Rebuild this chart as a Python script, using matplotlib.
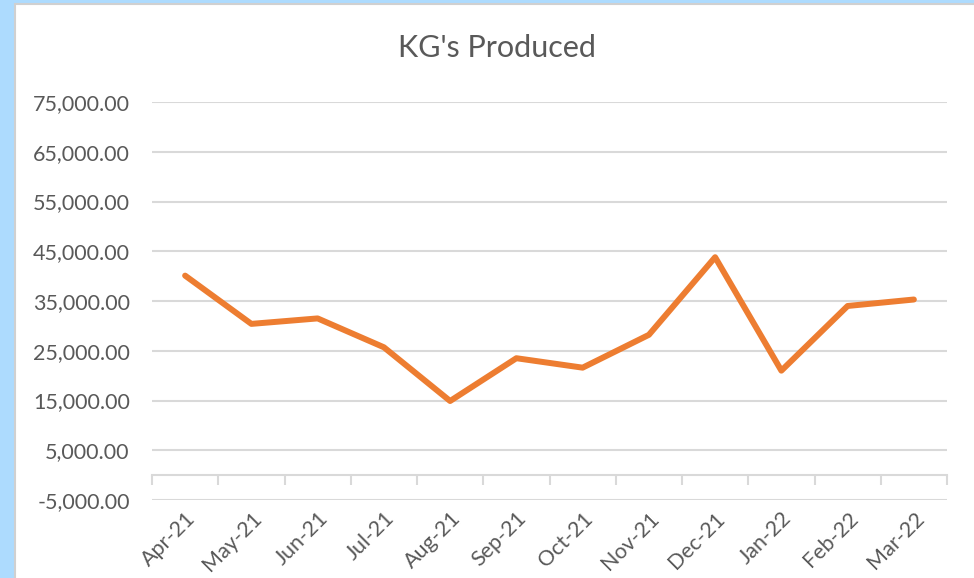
import matplotlib
matplotlib.use("Agg")
import matplotlib.pyplot as plt
from matplotlib.patches import Rectangle
from matplotlib.ticker import FuncFormatter
import numpy as np

months = ["Apr-21", "May-21", "Jun-21", "Jul-21", "Aug-21", "Sep-21",
          "Oct-21", "Nov-21", "Dec-21", "Jan-22", "Feb-22", "Mar-22"]
kg_produced = [40100, 30400, 31500, 25700, 14900, 23500,
               21600, 28200, 43800, 21000, 34000, 35300]
y_ticks = [-5000, 5000, 15000, 25000, 35000, 45000, 55000, 65000, 75000]

W, H = 974, 578
plt.rcParams['font.family'] = ['Lato', 'DejaVu Sans']
fig = plt.figure(figsize=(W / 100, H / 100), dpi=100)
fig.patch.set_facecolor('#ADDBFE')

# chart area (white with light grey border)
fig.patches.append(Rectangle((15 / W, -0.1), 1.2, (H - 4) / H + 0.1,
                             transform=fig.transFigure, facecolor='white',
                             edgecolor='#D0D0D0', linewidth=1.5, zorder=-10))

ax = fig.add_axes([152 / W, 1 - 500 / H, (947 - 152) / W, (500 - 102) / H])
ax.set_zorder(5)
ax.set_facecolor('none')
x = np.arange(len(months))
ax.plot(x, kg_produced, color='#ED7D31', linewidth=4.3,
        solid_capstyle='round', solid_joinstyle='round', zorder=3)

ax.set_xlim(-0.5, len(months) - 0.5)
ax.set_ylim(y_ticks[0], y_ticks[-1])
ax.set_yticks(y_ticks)
ax.yaxis.set_major_formatter(FuncFormatter(lambda v, p: f"{v:,.2f}"))
ax.grid(axis='y', color='#D9D9D9', linewidth=1.5, zorder=0)
ax.tick_params(axis='y', length=0, pad=16, labelsize=15.5, labelcolor='#595959')

ax.set_xticks(x)
ax.set_xticklabels(months, rotation=45, ha='right', rotation_mode='anchor')
ax.tick_params(axis='x', length=0, pad=6, labelsize=15.5, labelcolor='#595959')

for s in ax.spines.values():
    s.set_visible(False)

# category axis crossing at zero with boundary tick marks
frac0 = (0 - y_ticks[0]) / (y_ticks[-1] - y_ticks[0])
sec = ax.secondary_xaxis(frac0)
sec.set_xticks(np.arange(len(months) + 1) - 0.5)
sec.tick_params(axis='x', direction='out', length=7, width=1.5,
                color='#D9D9D9', labelbottom=False, labeltop=False,
                bottom=True, top=False)
sec.spines['bottom'].set_color('#D9D9D9')
sec.spines['bottom'].set_linewidth(1.5)
for k in ['top', 'left', 'right']:
    sec.spines[k].set_visible(False)

fig.text(497 / W, 1 - 48 / H, "KG's Produced", ha='center', va='center',
         fontsize=22, color='#595959', zorder=6)

fig.savefig('out.png', dpi=100)
